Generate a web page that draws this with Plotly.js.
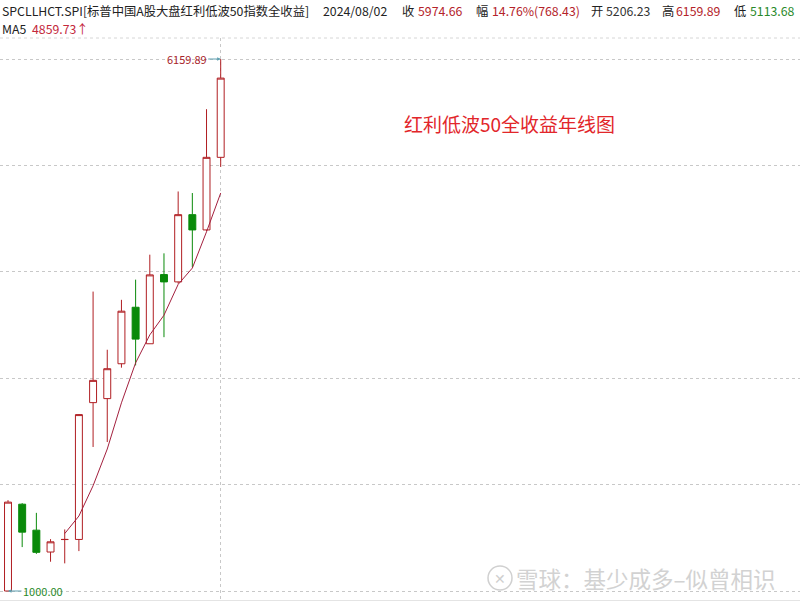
<!DOCTYPE html>
<html>
<head>
<meta charset="utf-8">
<script src="https://cdn.plot.ly/plotly-3.0.1.min.js"></script>
<style>html,body{margin:0;padding:0;background:#fff;}#chart{width:800px;height:605px;}</style>
</head>
<body>
<div id="chart"></div>
<script>
// Annual candles (years 2009..2024)
const years = [2009,2010,2011,2012,2013,2014,2015,2016,2017,2018,2019,2020,2021,2022,2023,2024];
const openV  = [1000,1842,1590,1378,1499,1500,2827,2866,3204,3752,3398,4069,3998,4650,4502,5206.23];
const highV  = [1881,1852,1758,1503,1597,2713,3904,3340,3824,4020,4262,4275,4875,4860,5673,6159.89];
const lowV   = [1000,1426,1360,1284,1268,1387,2397,2445,3166,3188,3398,3462,3982,4140,4490,5113.68];
const closeV = [1862,1571,1375,1477,1500,2711,3043,3156,3714,3443,4066,3998,4650,4502,5206.23,5974.66];
const ma5V   = [null,null,null,null,1557,1727,2021,2377,2825,3213,3484,3675,3974,4132,4484,4859.73];

const headerTitle = 'SPCLLHCT.SPI[标普中国A股大盘红利低波50指数全收益]';
const headerDate = '2024/08/02';
const headerItems = [
  {label:'收', value:'5974.66', lx:402, vx:418, color:'#b4232a'},
  {label:'幅', value:'14.76%(768.43)', lx:476, vx:492, color:'#b4232a'},
  {label:'开', value:'5206.23', lx:591, vx:606, color:'#333333'},
  {label:'高', value:'6159.89', lx:662, vx:676, color:'#b4232a'},
  {label:'低', value:'5113.68', lx:734, vx:750, color:'#2a8a2a'}
];
const maLabel = 'MA5';
const maText = '4859.73↑';
const chartNote = '红利低波50全收益年线图';
const watermark = '雪球：基少成多–似曾相识';

const FONT = 'Noto Sans CJK SC, Noto Sans, sans-serif';
const W = 800, H = 605, T = 38, B = 5;
const plotH = H - T - B;
const py = Y => (H - B - Y) / plotH;   // pixel y -> paper y
const px = X => X / W;

const minV = 1000, maxV = 6159.89;
const step = (maxV - minV) / 5;
const gridVals = [0,1,2,3,4,5].map(i => minV + i*step);
const k = (maxV - minV) / (591 - 59);
const yRange = [minV - (600-591)*k, maxV + (59-38)*k];
const dx = 14.18;
const xRange = [years[0] - 8/dx, years[0] + 792/dx];

const traces = [
  {
    type:'candlestick', x: years, open: openV, high: highV, low: lowV, close: closeV,
    increasing:{line:{color:'#b01e22', width:1}, fillcolor:'#ffffff'},
    decreasing:{line:{color:'#0a8a0a', width:1}, fillcolor:'#0a8a0a'},
    whiskerwidth:0, hoverinfo:'skip'
  },
  {
    type:'scatter', mode:'lines', x: years, y: ma5V,
    line:{color:'#a3203e', width:1}, connectgaps:false, hoverinfo:'skip'
  }
];

const ann = [];
const hdrY = py(11), maY = py(29);
function addText(text, x, y, color, size){
  ann.push({text:text, xref:'paper', yref:'paper', x:px(x), y:y, xanchor:'left', yanchor:'middle',
    showarrow:false, font:{family:FONT, size:size||12.3, color:color}, borderpad:0});
}
addText(headerTitle, 1, hdrY, '#222222');
addText(headerDate, 322, hdrY, '#222222');
headerItems.forEach(h => { addText(h.label, h.lx-1, hdrY, '#222222'); addText(h.value, h.vx-1, hdrY, h.color); });
addText(maLabel, 1, maY, '#222222');
addText(maText, 31, maY, '#c4283c');

// high / low markers
ann.push({x: years[15], y: maxV, xref:'x', yref:'y', text:'6159.89', showarrow:true,
  ax:-34, ay:0, arrowhead:2, arrowsize:0.7, arrowwidth:1, arrowcolor:'#5f9fb0', standoff:0,
  font:{family:FONT, size:11, color:'#a8232a'}});
ann.push({x: years[0], y: minV, xref:'x', yref:'y', text:'1000.00', showarrow:true,
  ax:35, ay:0, arrowhead:2, arrowsize:0.7, arrowwidth:1, arrowcolor:'#5f9fb0', standoff:0,
  font:{family:FONT, size:11, color:'#2a8a2a'}});

// chart note
ann.push({text:chartNote, xref:'paper', yref:'paper', x:px(510), y:py(124), xanchor:'center', yanchor:'middle',
  showarrow:false, font:{family:FONT, size:19, color:'#e2262a'}});
// watermark
ann.push({text:watermark, xref:'paper', yref:'paper', x:px(514), y:py(578), xanchor:'left', yanchor:'middle',
  showarrow:false, font:{family:FONT, size:22.5, color:'#d2d2d2'}});
ann.push({text:'✕', xref:'paper', yref:'paper', x:px(500), y:py(578), xanchor:'center', yanchor:'middle',
  showarrow:false, font:{family:FONT, size:14, color:'#cfcfcf'}});

const shapes = [
  {type:'line', xref:'paper', yref:'paper', x0:0, x1:1, y0:1, y1:1, line:{color:'#d6d6d6', width:1, dash:'dot'}},
  {type:'circle', xref:'paper', yref:'paper', x0:px(488), x1:px(512), y0:py(590), y1:py(566), line:{color:'#d0d0d0', width:1.5}}
];

const layout = {
  width:W, height:H, margin:{l:0, r:0, t:T, b:B, pad:0},
  paper_bgcolor:'#ffffff', plot_bgcolor:'#ffffff', showlegend:false,
  font:{family:FONT},
  xaxis:{type:'linear', range:xRange, tickvals:[years[15]], showticklabels:false, ticks:'',
    showgrid:true, gridcolor:'#c8c8c8', griddash:'dot', gridwidth:1, zeroline:false,
    showline:true, linecolor:'#e4e4e4', linewidth:1, rangeslider:{visible:false}, fixedrange:true},
  yaxis:{type:'linear', range:yRange, tickvals:gridVals, showticklabels:false, ticks:'',
    showgrid:true, gridcolor:'#c8c8c8', griddash:'dot', gridwidth:1, zeroline:false, showline:false, fixedrange:true},
  annotations:ann, shapes:shapes
};

Plotly.newPlot('chart', traces, layout, {staticPlot:true, displayModeBar:false});
</script>
</body>
</html>
